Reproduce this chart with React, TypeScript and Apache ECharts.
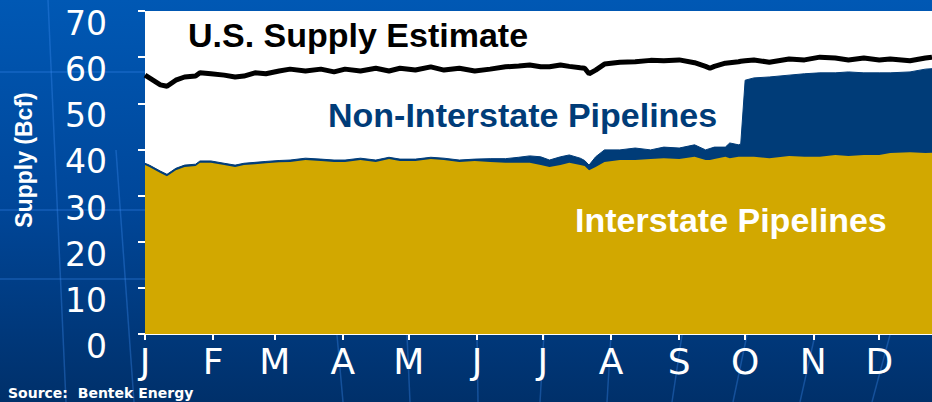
import React, { useEffect, useRef } from "react";
import * as echarts from "echarts";

// Day of year (0 = Jan 1) for each sampled point
const days = [0, 2, 7, 10, 14, 18, 23, 25, 30, 36, 41, 45, 50, 55, 61, 66, 73, 80, 86, 91, 98, 105, 111, 116, 123, 130, 136, 143, 150, 157, 164, 170, 175, 180, 184, 189, 193, 198, 200, 202, 205, 209, 216, 223, 230, 236, 243, 250, 255, 257, 259, 264, 266, 270, 271, 273, 277, 284, 293, 300, 307, 314, 320, 327, 334, 339, 348, 355, 358];

// Interstate pipelines (Bcf)
const interstate = [36.6, 36.2, 34.9, 34.2, 35.5, 36.2, 36.4, 37.1, 37.1, 36.6, 36.2, 36.6, 36.8, 37.0, 37.2, 37.3, 37.7, 37.5, 37.3, 37.3, 37.7, 37.3, 37.9, 37.5, 37.5, 37.9, 37.7, 37.3, 37.5, 37.3, 37.1, 37.1, 37.1, 36.6, 36.2, 36.6, 37.1, 36.6, 36.4, 35.5, 36.2, 37.3, 37.7, 37.7, 37.9, 38.1, 37.9, 38.4, 37.7, 37.7, 37.9, 38.4, 38.1, 38.4, 38.4, 38.4, 38.4, 38.1, 38.6, 38.4, 38.4, 38.8, 38.6, 38.8, 38.8, 39.2, 39.4, 39.2, 39.3];

// Non-interstate pipelines (Bcf), stacked on interstate
const nonInterstate = [0.4, 0.4, 0.4, 0.4, 0.4, 0.4, 0.4, 0.4, 0.4, 0.4, 0.4, 0.4, 0.4, 0.4, 0.4, 0.4, 0.4, 0.4, 0.4, 0.4, 0.4, 0.4, 0.4, 0.4, 0.4, 0.4, 0.4, 0.4, 0.4, 0.7, 0.9, 1.2, 1.5, 1.8, 1.5, 1.8, 1.7, 1.5, 1.2, 1.1, 2.2, 2.6, 2.2, 2.6, 2.0, 2.4, 2.4, 2.6, 2.2, 2.5, 2.6, 2.1, 3.3, 2.6, 2.8, 16.6, 17.1, 17.6, 17.5, 18.0, 18.2, 17.8, 18.2, 17.8, 17.8, 17.4, 17.4, 18.2, 18.2];

// U.S. supply estimate (Bcf)
const supplyEstimate = [56.1, 55.5, 54.0, 53.7, 55.0, 55.7, 55.9, 56.6, 56.4, 56.1, 55.7, 55.9, 56.6, 56.4, 57.0, 57.4, 57.0, 57.4, 56.8, 57.4, 57.0, 57.6, 57.0, 57.6, 57.2, 57.9, 57.2, 57.6, 57.0, 57.4, 57.9, 58.1, 58.3, 57.9, 57.9, 58.3, 58.0, 57.7, 57.6, 56.4, 57.2, 58.5, 58.9, 59.0, 59.3, 59.2, 59.4, 58.8, 58.0, 57.6, 58.0, 58.7, 58.8, 59.0, 59.1, 59.2, 59.4, 58.9, 59.6, 59.4, 60.0, 59.8, 59.4, 59.8, 59.4, 59.6, 59.2, 59.8, 60.0];

const monthStarts = [0, 31, 59, 90, 120, 151, 181, 212, 243, 273, 304, 334];
const monthLabels = ["J", "F", "M", "A", "M", "J", "J", "A", "S", "O", "N", "D"];

const yTicks = [0, 10, 20, 30, 40, 50, 60, 70];

export default function App() {
  const ref = useRef<HTMLDivElement>(null);

  useEffect(() => {
    if (!ref.current) return;
    const chart = echarts.init(ref.current, undefined, { renderer: "svg" });

    const pair = (arr: number[]) => days.map((d, i) => [d, arr[i]]);
    // stacked top of the non-interstate band = interstate + non-interstate
    const stackedTop = days.map((d, i) => [d, +(interstate[i] + nonInterstate[i]).toFixed(2)]);
    const deco = "rgba(60,140,240,0.35)";
    const decoLines: [number, number, number, number][] = [
      [0, 72, 145, 72],
      [0, 210, 145, 210],
      [0, 279, 145, 279],
      [48, 0, 66, 402],
      [116, 150, 134, 402],
      [337, 335, 343, 402],
      [407, 335, 410, 402],
      [477, 335, 478, 402],
      [544, 335, 540, 402],
      [611, 335, 607, 402],
      [682, 335, 672, 402],
      [747, 335, 733, 402],
      [815, 335, 800, 402],
      [890, 335, 872, 402],
    ];

    chart.setOption({
      animation: false,
      backgroundColor: {
        type: "linear",
        x: 0,
        y: 0,
        x2: 0,
        y2: 1,
        colorStops: [
          { offset: 0, color: "#0058b4" },
          { offset: 0.5, color: "#00479a" },
          { offset: 1, color: "#00306a" },
        ],
      },
      grid: {
        left: 145,
        right: 0,
        top: 11,
        bottom: 68,
        show: true,
        backgroundColor: "#ffffff",
        borderWidth: 0,
      },
      xAxis: {
        type: "value",
        min: 0,
        max: 358,
        splitLine: { show: false },
        axisLine: { show: true, lineStyle: { color: "#ffffff", width: 2 } },
        axisTick: {
          show: true,
          customValues: monthStarts,
          length: 6,
          lineStyle: { color: "#ffffff", width: 2 },
        },
        axisLabel: {
          customValues: monthStarts,
          formatter: (v: number) => monthLabels[monthStarts.indexOf(v)] ?? "",
          color: "#ffffff",
          fontSize: 36,
          fontFamily: "DejaVu Sans",
          margin: 9,
        },
      },
      yAxis: {
        type: "value",
        min: 0,
        max: 70,
        interval: 10,
        splitLine: { show: false },
        axisLine: { show: false },
        axisTick: {
          show: true,
          length: 7,
          lineStyle: { color: "#ffffff", width: 2 },
        },
        axisLabel: {
          color: "#ffffff",
          fontSize: 33,
          fontFamily: "DejaVu Sans",
          margin: 38,
          verticalAlign: "top",
          lineHeight: 25,
          textShadowColor: "#0a1830",
          textShadowOffsetX: 2,
          textShadowOffsetY: 2,
          textShadowBlur: 0,
          formatter: (v: number) => (yTicks.includes(v) ? String(v) : ""),
        },
      },
      series: [
        {
          name: "Non-Interstate Pipelines",
          type: "line",
          data: stackedTop,
          symbol: "none",
          lineStyle: { width: 1, color: "#003c78" },
          areaStyle: { color: "#003c78", opacity: 1 },
          z: 2,
        },
        {
          name: "Interstate Pipelines",
          type: "line",
          data: pair(interstate),
          symbol: "none",
          lineStyle: { width: 0, color: "#d2a800" },
          areaStyle: { color: "#d2a800", opacity: 1 },
          z: 3,
        },
        {
          name: "U.S. Supply Estimate",
          type: "line",
          data: pair(supplyEstimate),
          symbol: "none",
          lineStyle: { width: 5, color: "#000000" },
          z: 4,
        },
      ],
      graphic: [
        ...decoLines.map(([x1, y1, x2, y2]) => ({
          type: "line",
          silent: true,
          z: 0,
          shape: { x1, y1, x2, y2 },
          style: { stroke: deco, lineWidth: 1.5 },
        })),
        {
          type: "text",
          x: 188,
          y: 35,
          z: 10,
          style: {
            text: "U.S. Supply Estimate",
            fill: "#000000",
            font: "bold 34px 'Liberation Sans', Arial, sans-serif",
            textAlign: "left",
            textVerticalAlign: "middle",
          },
        },
        {
          type: "text",
          x: 328,
          y: 115,
          z: 10,
          style: {
            text: "Non-Interstate Pipelines",
            fill: "#003c78",
            font: "bold 34px 'Liberation Sans', Arial, sans-serif",
            textAlign: "left",
            textVerticalAlign: "middle",
          },
        },
        {
          type: "text",
          x: 575,
          y: 220,
          z: 10,
          style: {
            text: "Interstate Pipelines",
            fill: "#ffffff",
            font: "bold 34px 'Liberation Sans', Arial, sans-serif",
            textAlign: "left",
            textVerticalAlign: "middle",
            textShadowColor: "#4a3a10",
            textShadowOffsetX: 2,
            textShadowOffsetY: 2,
            textShadowBlur: 0,
          },
        },
        {
          type: "text",
          x: 24,
          y: 160,
          rotation: Math.PI / 2,
          z: 10,
          style: {
            text: "Supply (Bcf)",
            fill: "#ffffff",
            font: "bold 23px 'Liberation Sans', Arial, sans-serif",
            textAlign: "center",
            textVerticalAlign: "middle",
          },
        },
        {
          type: "text",
          x: 8,
          y: 393,
          z: 10,
          style: {
            text: "Source:  Bentek Energy",
            fill: "#ffffff",
            font: "bold 14px 'DejaVu Sans', Verdana, sans-serif",
            textAlign: "left",
            textVerticalAlign: "middle",
          },
        },
      ],
    });

    return () => {
      chart.dispose();
    };
  }, []);

  return (
    <div
      ref={ref}
      style={{ position: "fixed", left: 0, top: 0, width: 932, height: 402 }}
    />
  );
}
